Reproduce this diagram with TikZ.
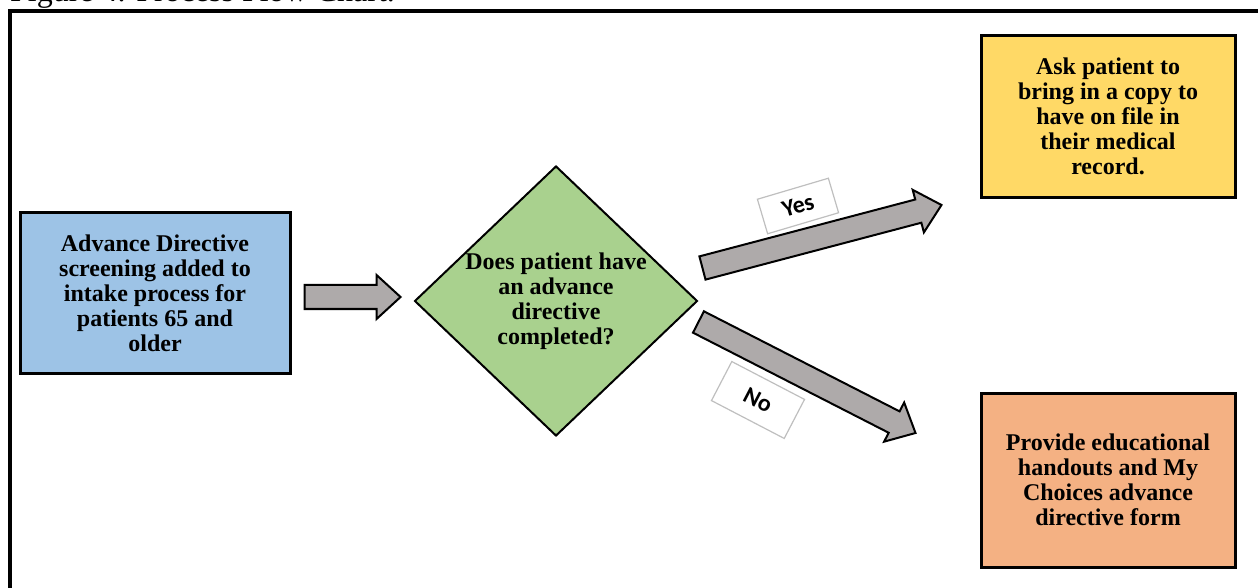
\documentclass[tikz,border=0pt]{standalone}
\usepackage{fontspec}
\setmainfont{Liberation Serif}
\newfontfamily\labelfont{Carlito}
\usepackage{tikz}
\usetikzlibrary{shapes.geometric,calc}
\definecolor{screenblue}{RGB}{157, 195, 230}
\definecolor{decisiongreen}{RGB}{169, 209, 142}
\definecolor{askyellow}{RGB}{255, 217, 102}
\definecolor{handoutorange}{RGB}{244, 177, 131}
\definecolor{arrowgray}{RGB}{174, 170, 170}
\definecolor{labelgray}{RGB}{191, 191, 191}

% block arrow from #1 (tail) to #2 (tip)
\newcommand{\blockarrow}[2]{%
  \coordinate (headbase) at ($(#2)!12pt!(#1)$);
  \filldraw[fatarrow] ($(#1)!6pt!90:(#2)$) -- ($(headbase)!6pt!90:(#2)$)
    -- ($(headbase)!11pt!90:(#2)$) -- (#2) -- ($(headbase)!11pt!-90:(#2)$)
    -- ($(headbase)!6pt!-90:(#2)$) -- ($(#1)!6pt!-90:(#2)$) -- cycle;
}

\begin{document}
\begin{tikzpicture}[
    x=0.5pt, y=-0.5pt,
    boxtext/.style={font=\fontsize{12}{12.5}\selectfont\bfseries, align=center},
    stepbox/.style={boxtext, draw=black, line width=1.5pt, inner sep=0pt},
    decision/.style={boxtext, diamond, draw=black, line width=1pt, fill=decisiongreen,
        aspect=1.05, inner sep=0pt, minimum width=141pt, minimum height=135pt},
    answer/.style={draw=labelgray, line width=0.6pt, fill=white, inner sep=0pt,
        font=\labelfont\fontsize{12}{12}\selectfont\bfseries},
    fatarrow/.style={draw=black, line width=1pt, fill=arrowgray, line join=miter}
]
\useasboundingbox (0,0) rectangle (1258,588);
\node[anchor=base west, font=\fontsize{16}{16}\selectfont] (caption) at (3,2) {Figure 4. Process Flow Chart.};
\draw[line width=2pt] (9.5,588) -- (9.5,11.5) -- (1258,11.5);

\node[stepbox, fill=screenblue, minimum width=135pt, minimum height=80pt] (screening) at (155,293)
    {Advance Directive\\screening added to\\intake process for\\patients 65 and\\older};
\node[decision] (question) at (556,301)
    {Does patient have\\an advance\\directive\\completed?};
\node[stepbox, fill=askyellow, minimum width=127pt, minimum height=81pt] (askcopy) at (1108,116.5)
    {Ask patient to\\bring in a copy to\\have on file in\\their medical\\record.};
\node[stepbox, fill=handoutorange, minimum width=127pt, minimum height=87pt] (handouts) at (1108,480)
    {Provide educational\\handouts and My\\Choices advance\\directive form};

\coordinate (toq-tail) at ($(screening.east)+(13,4)$);
\coordinate (toq-tip) at ($(question.west)+(-13,-4)$);
\coordinate (yes-tail) at ($(question.east)+(4,-33)$);
\coordinate (yes-tip) at ($(askcopy.west)+(-38,88.5)$);
\coordinate (no-tail) at ($(question.east)+(0,21)$);
\coordinate (no-tip) at ($(handouts.west)+(-64,-47)$);

\blockarrow{toq-tail}{toq-tip}
\blockarrow{yes-tail}{yes-tip}
\blockarrow{no-tail}{no-tip}

\node[answer, rotate=16.5, minimum width=37pt, minimum height=18pt] (yes) at (798,206) {Yes};
\node[answer, rotate=-27.5, minimum width=41pt, minimum height=22pt] (no) at (758,400) {No};
\end{tikzpicture}
\end{document}
